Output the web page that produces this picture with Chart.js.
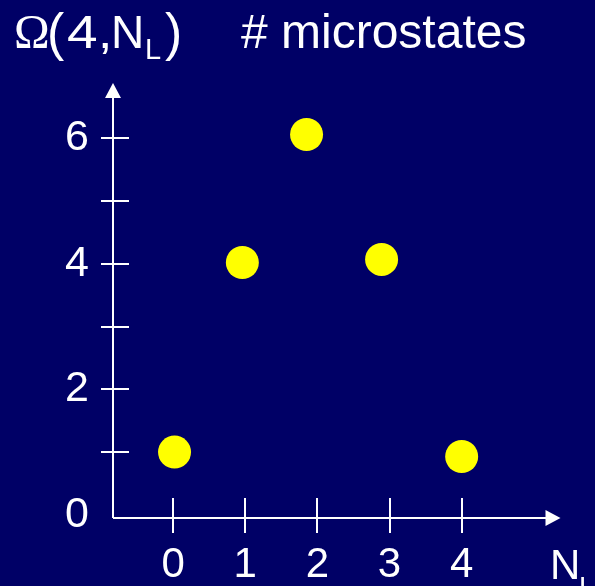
<!DOCTYPE html>
<html>
<head>
<meta charset="utf-8">
<title>Omega(4, N_L) microstates</title>
<script src="https://cdn.jsdelivr.net/npm/chart.js@4/dist/chart.umd.min.js"></script>
<style>
  html, body { margin: 0; padding: 0; background: #000066; overflow: hidden; }
  canvas { display: block; }
</style>
</head>
<body>
<canvas id="omegaChart" width="595" height="586"></canvas>
<script>
// ── Data ────────────────────────────────────────────────
const nL = [0.02, 0.96, 1.85, 2.89, 4.0];
const omega = [1.0, 4.02, 6.06, 4.07, 0.93];
const xTicks = [0, 1, 2, 3, 4];
const yMajor = [0, 2, 4, 6];
const yMinor = [1, 3, 5];

const BG = "#000066";
const FG = "#ffffff";
const SANS = "'Liberation Sans', Arial, sans-serif";

// ── Background ──────────────────────────────────────────
const bgPlugin = {
  id: "bg",
  beforeDraw(chart) {
    const { ctx, width, height } = chart;
    ctx.save();
    ctx.fillStyle = BG;
    ctx.fillRect(0, 0, width, height);
    ctx.restore();
  },
};

// ── Axes with arrows and crossing tick marks ───────────
const axesPlugin = {
  id: "arrowAxes",
  beforeDatasetsDraw(chart) {
    const { ctx, chartArea: a, scales: { x, y } } = chart;
    ctx.save();
    ctx.strokeStyle = FG;
    ctx.fillStyle = FG;
    ctx.lineWidth = 2;

    // y axis + arrow
    ctx.beginPath();
    ctx.moveTo(a.left, a.bottom);
    ctx.lineTo(a.left, a.top + 12);
    ctx.stroke();
    ctx.beginPath();
    ctx.moveTo(a.left, a.top);
    ctx.lineTo(a.left - 8, a.top + 15);
    ctx.lineTo(a.left + 8, a.top + 15);
    ctx.closePath();
    ctx.fill();

    // x axis + arrow
    ctx.beginPath();
    ctx.moveTo(a.left, a.bottom);
    ctx.lineTo(a.right - 12, a.bottom);
    ctx.stroke();
    ctx.beginPath();
    ctx.moveTo(a.right, a.bottom);
    ctx.lineTo(a.right - 15, a.bottom - 8);
    ctx.lineTo(a.right - 15, a.bottom + 8);
    ctx.closePath();
    ctx.fill();

    // y tick marks (major + minor, none at the origin)
    yMajor.concat(yMinor).filter((v) => v > 0).forEach((v) => {
      const py = Math.round(y.getPixelForValue(v));
      ctx.beginPath();
      ctx.moveTo(a.left - 12, py);
      ctx.lineTo(a.left + 16, py);
      ctx.stroke();
    });

    // x tick marks
    xTicks.forEach((v) => {
      const px = Math.round(x.getPixelForValue(v));
      ctx.beginPath();
      ctx.moveTo(px, a.bottom - 20);
      ctx.lineTo(px, a.bottom + 15);
      ctx.stroke();
    });
    ctx.restore();
  },
};

// draw one glyph, stretched a little to match the slide's wider face
function glyph(ctx, ch, x, y, font, sx, sy) {
  ctx.save();
  ctx.translate(x, y);
  ctx.scale(sx, sy);
  ctx.font = font;
  ctx.fillText(ch, 0, 0);
  ctx.restore();
}

// ── Title "Ω(4,N_L)  # microstates" and axis label N_L ─
const textPlugin = {
  id: "labels",
  afterDraw(chart) {
    const { ctx } = chart;
    ctx.save();
    ctx.fillStyle = FG;
    ctx.textBaseline = "alphabetic";
    ctx.textAlign = "left";

    const big = "47px " + SANS;
    glyph(ctx, "Ω", 14, 48, "48px 'Liberation Serif', 'Times New Roman', serif", 1, 1);
    glyph(ctx, "(", 47, 50, big, 1.1, 1.1);
    glyph(ctx, "4", 67, 48, big, 1.17, 1);
    glyph(ctx, ",", 98, 48, big, 1.1, 1);
    glyph(ctx, "N", 111, 48, big, 0.98, 1);
    glyph(ctx, "L", 145, 59, "29px " + SANS, 1, 1);
    glyph(ctx, ")", 165, 50, big, 1.1, 1.1);

    ctx.font = "48px " + SANS;
    ctx.fillText("# microstates", 241, 48);

    // x axis label
    ctx.font = "42px " + SANS;
    ctx.fillText("N", 550, 579);
    ctx.font = "28px " + SANS;
    ctx.fillText("L", 579, 596);
    ctx.restore();
  },
};

new Chart(document.getElementById("omegaChart"), {
  type: "scatter",
  data: {
    datasets: [
      {
        label: "Ω(4,N_L)",
        data: nL.map((v, i) => ({ x: v, y: omega[i] })),
        backgroundColor: "#ffff00",
        borderWidth: 0,
        pointRadius: 16.5,
        pointHoverRadius: 16.5,
      },
    ],
  },
  options: {
    responsive: false,
    devicePixelRatio: 1,
    animation: false,
    layout: { padding: { top: 83, right: 34.5, left: 0, bottom: 0 } },
    plugins: {
      legend: { display: false },
      tooltip: { enabled: false },
    },
    scales: {
      x: {
        type: "linear",
        min: -0.833,
        max: 5.37,
        grid: { display: false, drawTicks: false },
        border: { display: false },
        afterFit: (s) => { s.height = 68; },
        ticks: {
          stepSize: 1,
          includeBounds: false,
          autoSkip: false,
          maxRotation: 0,
          padding: 22,
          color: FG,
          font: { family: SANS, size: 42 },
          callback: (v) => (xTicks.includes(v) ? String(v) : ""),
        },
      },
      y: {
        type: "linear",
        min: -0.05,
        max: 6.88,
        grid: { display: false, drawTicks: false },
        border: { display: false },
        afterFit: (s) => { s.width = 113; },
        ticks: {
          stepSize: 1,
          includeBounds: false,
          autoSkip: false,
          padding: 24,
          color: FG,
          font: { family: SANS, size: 43 },
          callback: (v) => (yMajor.includes(v) ? String(v) : ""),
        },
      },
    },
  },
  plugins: [bgPlugin, axesPlugin, textPlugin],
});
</script>
</body>
</html>
